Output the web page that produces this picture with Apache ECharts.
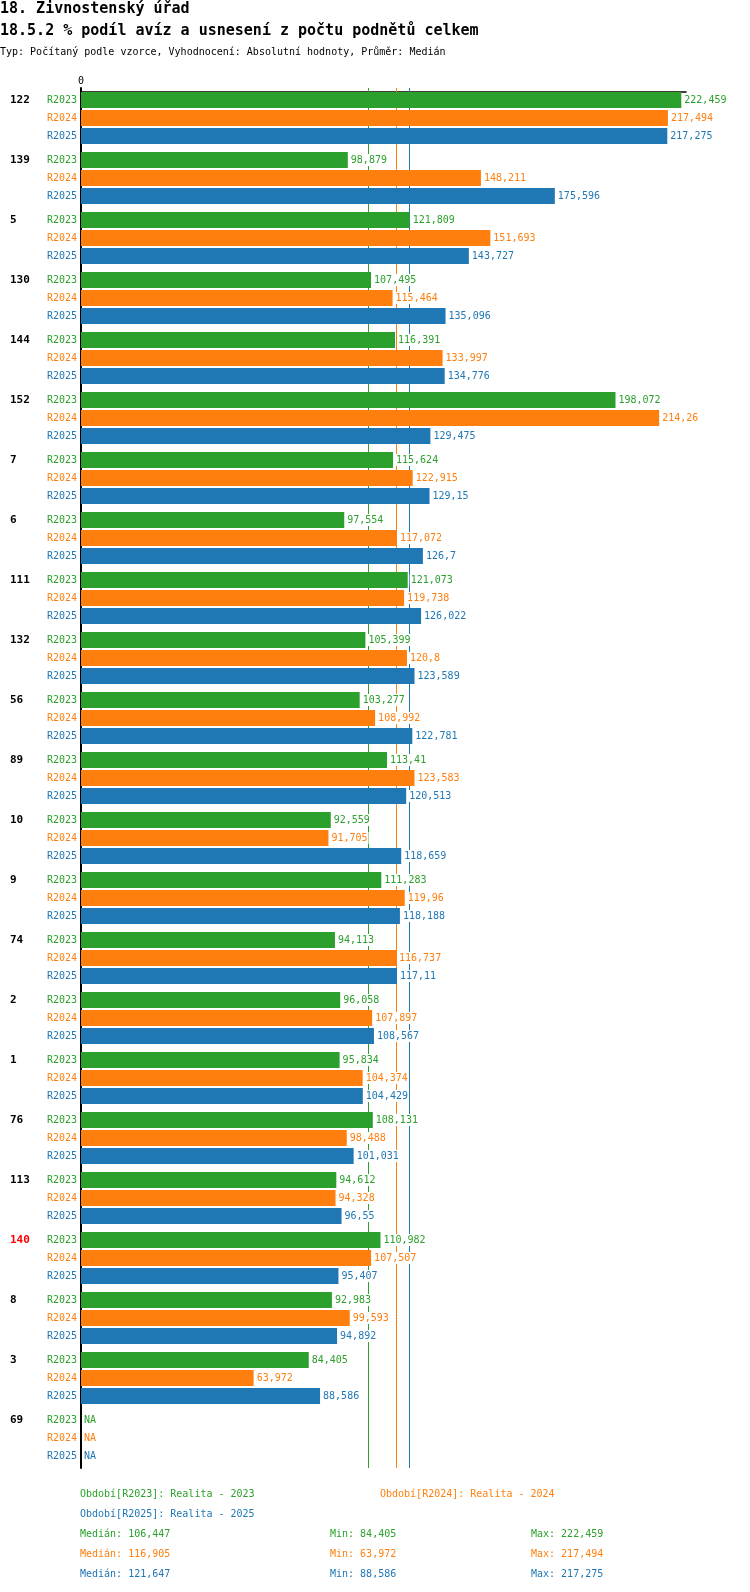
<html>
<head>
    <meta charset="utf-8" />
    <title>18.5.2 % podíl avíz a usnesení z počtu podnětů celkem</title>
    <script src="https://cdn.jsdelivr.net/npm/echarts@6.0.0/dist/echarts.min.js"></script>
    <style>
        body { margin: 0; background: #fff; }
        #chart { width: 750px; height: 1592px; }
    </style>
</head>
<body>
    <div id="chart"></div>
    <script type="text/javascript">
        // data (NA = null)
        var categories = ['122', '139', '5', '130', '144', '152', '7', '6', '111', '132', '56', '89',
                          '10', '9', '74', '2', '1', '76', '113', '140', '8', '3', '69'];
        var r2023 = [222.459, 98.879, 121.809, 107.495, 116.391, 198.072, 115.624, 97.554, 121.073, 105.399, 103.277, 113.41,
                     92.559, 111.283, 94.113, 96.058, 95.834, 108.131, 94.612, 110.982, 92.983, 84.405, null];
        var r2024 = [217.494, 148.211, 151.693, 115.464, 133.997, 214.26, 122.915, 117.072, 119.738, 120.8, 108.992, 123.583,
                     91.705, 119.96, 116.737, 107.897, 104.374, 98.488, 94.328, 107.507, 99.593, 63.972, null];
        var r2025 = [217.275, 175.596, 143.727, 135.096, 134.776, 129.475, 129.15, 126.7, 126.022, 123.589, 122.781, 120.513,
                     118.659, 118.188, 117.11, 108.567, 104.429, 101.031, 96.55, 95.407, 94.892, 88.586, null];
        var seriesNames = ['R2023', 'R2024', 'R2025'];
        var periodLabels = ['Období[R2023]: Realita - 2023', 'Období[R2024]: Realita - 2024', 'Období[R2025]: Realita - 2025'];
        var medians = [106.447, 116.905, 121.647];
        var mins = [84.405, 63.972, 88.586];
        var maxs = [222.459, 217.494, 217.275];
        var highlighted = ['140'];

        var colors = ['#2ca02c', '#ff7f0e', '#1f77b4'];
        var mono = '"DejaVu Sans Mono", "Liberation Mono", monospace';

        function fmt(v) {
            return String(v).replace('.', ',');
        }

        var chart = echarts.init(document.getElementById('chart'), null, { renderer: 'canvas' });
        var values = [r2023, r2024, r2025];
        var series = [];

        seriesNames.forEach(function (name, i) {
            // zero-width helper bar: carries the period label on the left and the median line
            series.push({
                name: name + '_label',
                type: 'bar',
                stack: name,
                barWidth: 16,
                barGap: '12.5%',
                z: 1,
                silent: true,
                itemStyle: { color: colors[i] },
                data: categories.map(function () { return 0; }),
                label: {
                    show: true,
                    position: 'left',
                    distance: 4,
                    formatter: name,
                    color: colors[i],
                    fontFamily: mono,
                    fontSize: 10
                },
                markLine: {
                    silent: true,
                    z: 1,
                    symbol: 'none',
                    label: { show: false },
                    lineStyle: { color: colors[i], width: 1, type: 'solid' },
                    data: [{ xAxis: medians[i] }]
                }
            });
            series.push({
                name: name,
                type: 'bar',
                stack: name,
                barWidth: 16,
                barGap: '12.5%',
                z: 3,
                silent: true,
                itemStyle: { color: colors[i] },
                data: values[i].map(function (v) {
                    return v === null ? { value: 0, label: { formatter: 'NA' } } : v;
                }),
                label: {
                    show: true,
                    position: 'right',
                    distance: 2,
                    formatter: function (p) { return fmt(p.value); },
                    color: colors[i],
                    backgroundColor: '#ffffff',
                    padding: [1, 1],
                    fontFamily: mono,
                    fontSize: 10
                }
            });
        });

        function txt(x, y, s, font, color) {
            return {
                type: 'text',
                z: 10,
                style: { x: x, y: y, text: s, font: font, fill: color, verticalAlign: 'middle', textVerticalAlign: 'middle' }
            };
        }

        var graphics = [
            txt(0, 9, '18. Živnostenský úřad', 'bold 15px ' + mono, '#000'),
            txt(0, 31, '18.5.2 % podíl avíz a usnesení z počtu podnětů celkem', 'bold 15px ' + mono, '#000'),
            txt(0, 52, 'Typ: Počítaný podle vzorce, Vyhodnocení: Absolutní hodnoty, Průměr: Medián', '10px ' + mono, '#000'),
            txt(80, 1494, periodLabels[0], '10px ' + mono, colors[0]),
            txt(380, 1494, periodLabels[1], '10px ' + mono, colors[1]),
            txt(80, 1514, periodLabels[2], '10px ' + mono, colors[2])
        ];
        seriesNames.forEach(function (name, i) {
            var y = 1534 + i * 20;
            graphics.push(txt(80, y, 'Medián: ' + fmt(medians[i]), '10px ' + mono, colors[i]));
            graphics.push(txt(330, y, 'Min: ' + fmt(mins[i]), '10px ' + mono, colors[i]));
            graphics.push(txt(531, y, 'Max: ' + fmt(maxs[i]), '10px ' + mono, colors[i]));
        });

        var option = {
            animation: false,
            backgroundColor: '#ffffff',
            grid: {
                left: 81,
                top: 88,
                width: 605,
                height: 1380,
                containLabel: false,
                outerBoundsMode: 'none'
            },
            xAxis: {
                type: 'value',
                position: 'top',
                offset: -4,
                min: 0,
                max: 224.2,
                interval: 1000,
                axisLine: { show: true, lineStyle: { color: '#000', width: 1.5 } },
                axisTick: { show: false },
                splitLine: { show: false },
                axisLabel: {
                    show: true,
                    margin: 6,
                    color: '#000',
                    fontFamily: mono,
                    fontSize: 10,
                    formatter: function (v) { return v === 0 ? '0' : ''; }
                }
            },
            yAxis: {
                type: 'category',
                inverse: true,
                data: categories,
                axisLine: { show: true, lineStyle: { color: '#000', width: 2 } },
                axisTick: { show: false },
                splitLine: { show: false },
                axisLabel: {
                    interval: 0,
                    align: 'left',
                    margin: 71,
                    formatter: function (v) { return '{g|' + v + '}'; },
                    rich: {
                        g: {
                            fontFamily: mono,
                            fontSize: 11,
                            fontWeight: 'bold',
                            padding: [0, 0, 36, 0]
                        }
                    },
                    color: function (v) { return highlighted.indexOf(v) >= 0 ? '#ff0000' : '#000000'; }
                }
            },
            series: series,
            graphic: graphics
        };
        option && chart.setOption(option);
    </script>
</body>
</html>
